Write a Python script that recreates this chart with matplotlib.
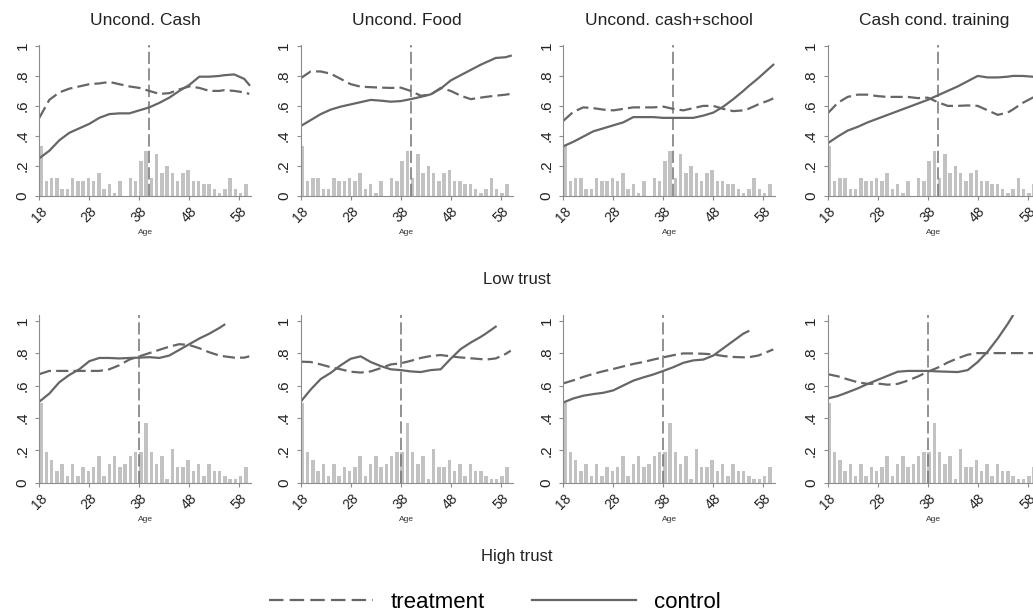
import numpy as np
import matplotlib
matplotlib.use("Agg")
import matplotlib.pyplot as plt
from matplotlib.lines import Line2D

plt.rcParams['font.family'] = ['Liberation Sans', 'DejaVu Sans']

# age grid used for the smoothed lines
ages = [18, 20, 22, 24, 26, 28, 30, 32, 34, 36, 38, 40, 42, 44, 46, 48, 50, 52, 54, 55, 57, 59, 60]
nan = np.nan

titles = ["Uncond. Cash", "Uncond. Food", "Uncond. cash+school", "Cash cond. training"]
rows = ["Low trust", "High trust"]
cutoffs = [40, 38]

# low trust
low_treat = [
    [.52, .64, .69, .715, .73, .745, .75, .76, .745, .73, .72, .70, .68, .685, .71, .73, .72, .70, .70, .705, .70, .69, .68],
    [.785, .83, .83, .815, .78, .745, .728, .725, .722, .72, .722, .70, .668, .675, .72, .70, .668, .645, .655, .66, .668, .675, .68],
    [.50, .56, .59, .585, .575, .57, .58, .59, .59, .59, .595, .58, .57, .585, .60, .60, .58, .565, .57, .58, .61, .635, .65],
    [.55, .62, .66, .675, .675, .665, .66, .66, .66, .652, .655, .625, .60, .60, .603, .60, .57, .54, .555, .575, .62, .655, .665],
]
low_ctrl = [
    [.25, .30, .37, .42, .45, .48, .52, .545, .55, .55, .57, .59, .62, .655, .70, .74, .795, .795, .80, .805, .81, .78, .74],
    [.465, .505, .545, .575, .595, .61, .625, .64, .635, .628, .632, .645, .66, .677, .715, .77, .805, .84, .875, .89, .92, .925, .935],
    [.33, .36, .395, .43, .45, .47, .49, .525, .525, .525, .52, .52, .52, .52, .535, .555, .595, .645, .70, .73, .785, .845, .875],
    [.35, .395, .435, .46, .49, .515, .54, .565, .59, .615, .64, .67, .70, .73, .765, .80, .79, .79, .795, .80, .80, .795, .795],
]
# high trust
high_treat = [
    [.67, .69, .69, .69, .69, .69, .69, .70, .725, .76, .78, .80, .82, .84, .855, .85, .83, .805, .785, .78, .772, .772, .78],
    [.747, .745, .73, .713, .70, .685, .68, .687, .707, .73, .737, .752, .77, .782, .788, .78, .773, .768, .763, .76, .767, .795, .815],
    [.613, .632, .653, .672, .688, .702, .718, .733, .745, .76, .774, .787, .798, .798, .796, .792, .782, .776, .774, .774, .785, .81, .823],
    [.67, .657, .638, .62, .61, .612, .605, .61, .63, .655, .685, .71, .742, .768, .79, .80, .80, .80, .80, .80, .80, .80, .80],
]
high_ctrl = [
    [.50, .55, .62, .665, .70, .75, .77, .77, .767, .77, .772, .775, .77, .785, .82, .855, .89, .92, .955, .975, nan, nan, nan],
    [.50, .575, .64, .678, .725, .765, .78, .745, .72, .70, .695, .687, .683, .695, .70, .765, .825, .865, .90, .92, .963, nan, nan],
    [.495, .52, .537, .547, .555, .57, .60, .63, .65, .668, .69, .713, .74, .755, .76, .785, .83, .875, .92, .935, nan, nan, nan],
    [.52, .535, .558, .582, .61, .635, .66, .685, .69, .69, .69, .687, .685, .683, .695, .745, .81, .89, .98, 1.03, nan, nan, nan],
]

# age distribution (density) bars, 40 bins from 18 to 60
low_hist = [.33, .10, .12, .12, .045, .045, .12, .10, .10, .12,
            .10, .15, .045, .075, .02, .10, 0, .12, .10, .23,
            .30, .12, .28, .15, .20, .15, .10, .15, .175, .10,
            .10, .075, .075, .045, .02, .045, .12, .045, .02, .075]
high_hist = [.49, .19, .14, .07, .115, .04, .115, .04, .095, .07,
             .095, .165, .04, .115, .165, .095, .115, .165, .19, .19,
             .37, .19, .115, .165, .02, .21, .095, .095, .14, .07,
             .115, .04, .115, .07, .07, .04, .02, .02, .04, .095]

line_c = '#666666'
bar_c = '#c2c2c2'
axis_c = '#8c8c8c'

W, H = 1033, 616
fig = plt.figure(figsize=(W / 100, H / 100), dpi=100)

lefts = [39.3, 300.7, 563.3, 827.7]
px_per_year = 5.0
xmax = 60.4
row_bottom = [195.7, 482.7]
row_unit = [149.7, 162.0]
row_ytop = [1.01, 1.035]

edges = np.linspace(18, 60, 41)

data = [(low_treat, low_ctrl, low_hist), (high_treat, high_ctrl, high_hist)]

for r in range(2):
    treat, ctrl, hist = data[r]
    for c in range(4):
        w = (xmax - 18) * px_per_year
        h = row_ytop[r] * row_unit[r]
        ax = fig.add_axes([lefts[c] / W, (H - row_bottom[r]) / H, w / W, h / H])
        ax.bar(edges[:-1], hist, width=0.7, align='edge', color=bar_c, linewidth=0)
        ax.axvline(cutoffs[r], color='#737373', lw=1.1, dashes=(8, 2.8))
        ax.plot(ages, treat[c], color=line_c, lw=1.6, dashes=(5.5, 2.3))
        ax.plot(ages, ctrl[c], color=line_c, lw=1.6)
        ax.set_xlim(18, xmax)
        ax.set_ylim(0, row_ytop[r])
        for s in ['top', 'right']:
            ax.spines[s].set_visible(False)
        for s in ['left', 'bottom']:
            ax.spines[s].set_color(axis_c)
            ax.spines[s].set_linewidth(0.8)
        ax.set_xticks([18, 28, 38, 48, 58])
        ax.set_xticklabels(['18', '28', '38', '48', '58'], rotation=45,
                           ha='center', va='top')
        ax.set_yticks([0, .2, .4, .6, .8, 1])
        ax.set_yticklabels(['0', '.2', '.4', '.6', '.8', '1'], rotation=90, va='center')
        ax.tick_params(axis='both', colors=axis_c, labelcolor='#222222',
                       length=3, width=0.8)
        ax.tick_params(axis='x', pad=3, labelsize=10)
        ax.tick_params(axis='y', pad=4, labelsize=11)
        ax.set_xlabel('Age', fontsize=6, labelpad=3, color='#333333')
        if r == 0:
            ax.set_title(titles[c], fontsize=12.5, pad=14, color='#222222')

fig.text(0.5, 1 - 280 / H, rows[0], ha='center', va='center', fontsize=12, color='#222222')
fig.text(0.5, 1 - 557 / H, rows[1], ha='center', va='center', fontsize=12, color='#222222')

handles = [Line2D([], [], color=line_c, lw=1.6, dashes=(6.5, 2.8)),
           Line2D([], [], color=line_c, lw=1.6)]
fig.legend(handles, ['treatment', 'control'], loc='center', ncol=2,
           bbox_to_anchor=(0.479, 1 - 602 / H), frameon=False, fontsize=16,
           handlelength=4.7, handletextpad=0.8, columnspacing=2.1)

fig.savefig('out.png', dpi=100)
